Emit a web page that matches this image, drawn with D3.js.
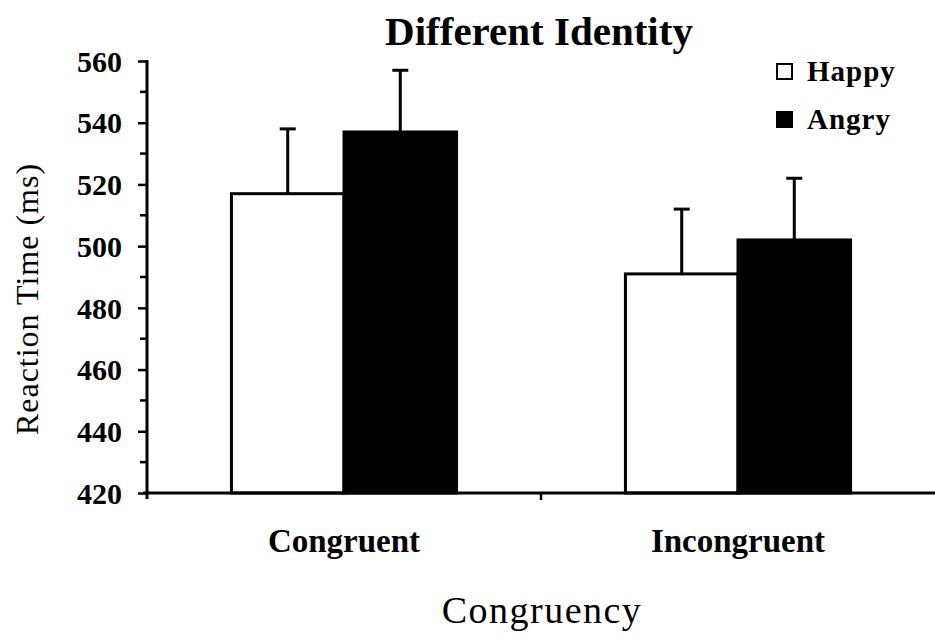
<!DOCTYPE html>
<html>
<head>
<meta charset="utf-8">
<script src="https://cdn.jsdelivr.net/npm/d3@7"></script>
<style>
  body { margin: 0; background: #fff; }
  svg text { font-family: "Liberation Serif", "Times New Roman", serif; fill: #000; }
</style>
</head>
<body>
<script>
// Daten
const categories = ["Congruent", "Incongruent"];
const series = ["Happy", "Angry"];
const happyValues = [517, 491];
const angryValues = [537, 502];
const happyErrors = [21, 21];
const angryErrors = [20, 20];
const yTicks = [420, 440, 460, 480, 500, 520, 540, 560];
const yMinorTicks = [430, 450, 470, 490, 510, 530, 550];

const W = 935, H = 641;
const margin = {top: 61, right: 0, bottom: 148, left: 147};
const width = W - margin.left - margin.right,
      height = H - margin.top - margin.bottom;

const svg = d3.select("body").append("svg")
    .attr("width", W)
    .attr("height", H);

const g = svg.append("g")
    .attr("transform", `translate(${margin.left},${margin.top})`);

// Skalen
const x0 = d3.scaleBand().domain(categories).range([0, width]);
const x1 = d3.scaleBand().domain(series).range([0, x0.bandwidth()]).paddingOuter(0.75);
const y = d3.scaleLinear().domain([420, 560]).range([height, 0]);

const fills = {Happy: "#fff", Angry: "#000"};

const data = categories.map((c, i) => ({
    category: c,
    values: [
        {key: "Happy", value: happyValues[i], err: happyErrors[i]},
        {key: "Angry", value: angryValues[i], err: angryErrors[i]}
    ]
}));

const groups = g.selectAll(".grp")
    .data(data)
    .join("g")
    .attr("class", "grp")
    .attr("transform", d => `translate(${x0(d.category)},0)`);

// Fehlerbalken (nur nach oben)
groups.selectAll(".err")
    .data(d => d.values)
    .join("line")
    .attr("x1", d => x1(d.key) + x1.bandwidth() / 2)
    .attr("x2", d => x1(d.key) + x1.bandwidth() / 2)
    .attr("y1", d => y(d.value))
    .attr("y2", d => y(d.value + d.err))
    .attr("stroke", "#000")
    .attr("stroke-width", 3);

groups.selectAll(".cap")
    .data(d => d.values)
    .join("line")
    .attr("x1", d => x1(d.key) + x1.bandwidth() / 2 - 8)
    .attr("x2", d => x1(d.key) + x1.bandwidth() / 2 + 8)
    .attr("y1", d => y(d.value + d.err))
    .attr("y2", d => y(d.value + d.err))
    .attr("stroke", "#000")
    .attr("stroke-width", 3);

// Balken
groups.selectAll("rect")
    .data(d => d.values)
    .join("rect")
    .attr("x", d => x1(d.key))
    .attr("y", d => y(d.value))
    .attr("width", x1.bandwidth())
    .attr("height", d => height - y(d.value))
    .attr("fill", d => fills[d.key])
    .attr("stroke", "#000")
    .attr("stroke-width", 3);

// Y-Achse
const yAxis = g.append("g")
    .call(d3.axisLeft(y).tickValues(yTicks).tickSize(9).tickPadding(16).tickFormat(d3.format("d")));
yAxis.select(".domain").attr("stroke-width", 3).attr("d", `M0,-1V${height + 6}`);
yAxis.selectAll(".tick line").attr("stroke-width", 2.5);
yAxis.selectAll(".tick text")
    .style("font-size", "30px")
    .style("font-weight", "bold")
    .attr("dy", "0.34em");

g.append("g")
    .selectAll("line")
    .data(yMinorTicks)
    .join("line")
    .attr("x1", -7)
    .attr("x2", 0)
    .attr("y1", d => y(d))
    .attr("y2", d => y(d))
    .attr("stroke", "#000")
    .attr("stroke-width", 2.5);

// X-Achse
const xAxis = g.append("g")
    .attr("transform", `translate(0,${height})`)
    .call(d3.axisBottom(x0).tickSize(0).tickPadding(59));
xAxis.select(".domain").attr("stroke-width", 3).attr("d", `M-4,0H${width}`);
xAxis.selectAll(".tick text")
    .style("font-size", "33px")
    .style("font-weight", "bold")
    .attr("dy", "0");

xAxis.append("line")
    .attr("x1", x0.step())
    .attr("x2", x0.step())
    .attr("y1", 0)
    .attr("y2", 7)
    .attr("stroke", "#000")
    .attr("stroke-width", 2.5);

// Titel
svg.append("text")
    .attr("x", 539)
    .attr("y", 45)
    .attr("text-anchor", "middle")
    .style("font-size", "41px")
    .style("font-weight", "bold")
    .text("Different Identity");

// Achsenbeschriftungen
svg.append("text")
    .attr("transform", "translate(38,299) rotate(-90)")
    .attr("text-anchor", "middle")
    .style("font-size", "32px")
    .style("letter-spacing", "1px")
    .text("Reaction Time (ms)");

svg.append("text")
    .attr("x", 542)
    .attr("y", 623)
    .attr("text-anchor", "middle")
    .style("font-size", "38px")
    .style("letter-spacing", "1.5px")
    .text("Congruency");

// Legende
const legend = svg.append("g")
    .selectAll("g")
    .data(series)
    .join("g")
    .attr("transform", (d, i) => `translate(777,${64 + i * 48})`);

legend.append("rect")
    .attr("width", 15)
    .attr("height", 15)
    .attr("fill", d => fills[d])
    .attr("stroke", "#000")
    .attr("stroke-width", 2);

legend.append("text")
    .attr("x", 30)
    .attr("y", 17)
    .style("font-size", "29px")
    .style("font-weight", "bold")
    .style("letter-spacing", "1px")
    .text(d => d);
</script>
</body>
</html>
